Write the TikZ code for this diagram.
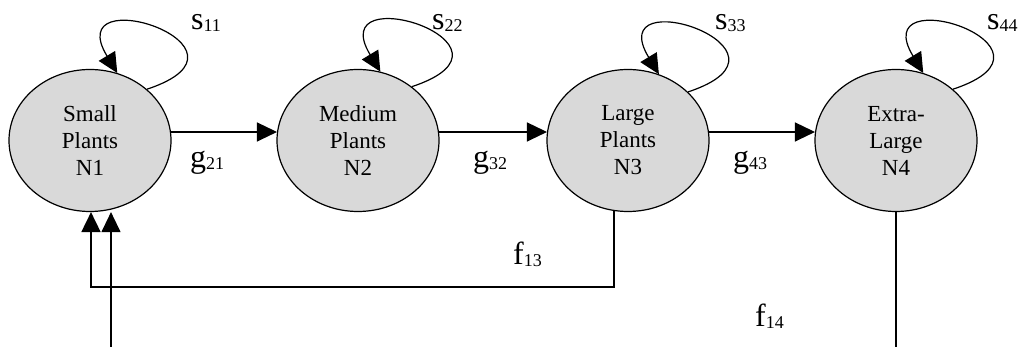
\documentclass[tikz,border=0pt]{standalone}
\usepackage{fontspec}
\setmainfont{Liberation Serif}
\usetikzlibrary{arrows.meta,shapes.geometric}
\newcommand{\ratelabel}[2]{{\fontsize{32}{32}\selectfont #1}{\fontsize{18}{18}\selectfont\raisebox{-2pt}{#2}}}
\tikzset{
  stage/.style = {shape=ellipse, draw, fill=gray!30, line width=1.2pt,
                  minimum width=162pt, minimum height=142pt, inner sep=0pt,
                  align=center, font=\fontsize{23}{27}\selectfont},
  rate/.style  = {anchor=base west, inner sep=0pt},
  flow/.style  = {draw, line width=1.2pt, -{Triangle[length=20pt,width=19pt]}}
}

\begin{document}
\begin{tikzpicture}
  [
    x = 1pt,
    y = 1pt
  ]
  \useasboundingbox (0,0) rectangle (1029,347);
  % stages
  \node [stage] (n1) at (90,206.5)  {Small\\Plants\\N1};
  \node [stage] (n2) at (358,206.5) {Medium\\Plants\\N2};
  \node [stage] (n3) at (628,206.5) {Large\\Plants\\N3};
  \node [stage] (n4) at (896,206.5) {Extra-\\Large\\N4};
  % stay in the same stage
  \draw [flow] (n1.42) .. controls +(127,42) and +(-58,96) .. (n1.68);
  \draw [flow] (n2.45) .. controls +(127,42) and +(-58,96) .. (n2.72);
  \draw [flow] (n3.39) .. controls +(127,42) and +(-58,96) .. (n3.65);
  \draw [flow] (n4.42) .. controls +(127,42) and +(-58,96) .. (n4.68);
  % grow to the next stage
  \draw [flow] (n1.6) -- (n2.174);
  \draw [flow] (n2.6) -- (n3.174);
  \draw [flow] (n3.6) -- (n4.174);
  % fecundity
  \coordinate (f13turn) at (91,60);
  \coordinate (f14in)   at (111,0);
  \coordinate (f14out)  at (896,0);
  \draw [flow, line width=1.8pt] (n3.259) |- (f13turn) -- (f13turn |- n1.south);
  \draw [line width=1.2pt] (n4.south) -- (f14out);
  \draw [flow] (f14in) -- (f14in |- n1.south);
  % labels
  \node [rate] (s11) at (191,317) {\ratelabel{s}{11}};
  \node [rate] (s22) at (432,317) {\ratelabel{s}{22}};
  \node [rate] (s33) at (715,317) {\ratelabel{s}{33}};
  \node [rate] (s44) at (987,317) {\ratelabel{s}{44}};
  \node [rate] (g21) at (190,179) {\ratelabel{g}{21}};
  \node [rate] (g32) at (473,179) {\ratelabel{g}{32}};
  \node [rate] (g43) at (733,179) {\ratelabel{g}{43}};
  \node [rate] (f13) at (513,82)  {\ratelabel{f}{13}};
  \node [rate] (f14) at (755,20)  {\ratelabel{f}{14}};
\end{tikzpicture}
\end{document}
